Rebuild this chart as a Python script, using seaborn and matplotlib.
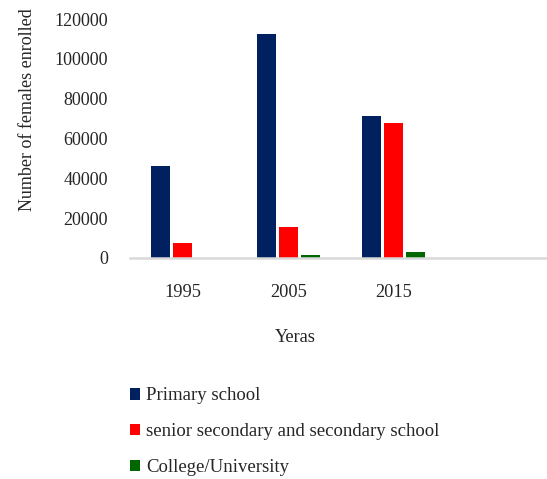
import matplotlib
matplotlib.use("Agg")
import matplotlib.pyplot as plt
import seaborn as sns
import pandas as pd
from matplotlib.patches import Patch

years = ["1995", "2005", "2015"]
primary = [46000, 112500, 71500]
secondary = [7500, 15500, 68000]
college = [0, 1500, 3000]
levels = ["Primary school", "senior secondary and secondary school", "College/University"]
colors = ["#002060", "#FF0000", "#006600"]

df = pd.DataFrame({
    "year": years * 3,
    "level": [levels[0]] * 3 + [levels[1]] * 3 + [levels[2]] * 3,
    "count": primary + secondary + college,
})

sns.set_theme(style="white")
plt.rcParams["font.family"] = ["Liberation Serif", "DejaVu Serif"]

fig = plt.figure(figsize=(5.47, 4.79), dpi=100)
ax = fig.add_axes([130 / 547, 1 - 258 / 479, 422 / 547, (258 - 19) / 479])

sns.barplot(data=df, x="year", y="count", hue="level", order=years + [""],
            hue_order=levels, palette=colors, width=0.62, gap=0.13,
            saturation=1, ax=ax, legend=False, edgecolor="none")

ax.set_ylim(0, 120000)
ax.set_xlim(-0.5, 3.5)
ax.set_yticks(range(0, 120001, 20000))
ax.set_yticklabels([str(v) for v in range(0, 120001, 20000)], fontsize=13)
ax.tick_params(axis="y", length=0, pad=16)
ax.tick_params(axis="x", length=0, pad=19, labelsize=13.2)
for s in ["top", "right", "left"]:
    ax.spines[s].set_visible(False)
ax.spines["bottom"].set_color("#D9D9D9")
ax.spines["bottom"].set_linewidth(1.8)
ax.set_xlabel("")
ax.set_ylabel("")

fig.text(295 / 547, 1 - 338 / 479, "Yeras", ha="center", va="center", fontsize=13.2)
fig.text(28 / 547, 1 - 110 / 479, "Number of females enrolled", rotation=90,
         ha="center", va="center", fontsize=13)

handles = [Patch(facecolor=c, edgecolor="none") for c in colors]
fig.legend(handles, levels, loc="upper left", bbox_to_anchor=(122 / 547, 1 - 380 / 479),
           frameon=False, fontsize=13.5, handlelength=0.58, handleheight=0.58,
           handletextpad=0.3, labelspacing=1.0, borderaxespad=0)

fig.savefig("out.png", dpi=100)
